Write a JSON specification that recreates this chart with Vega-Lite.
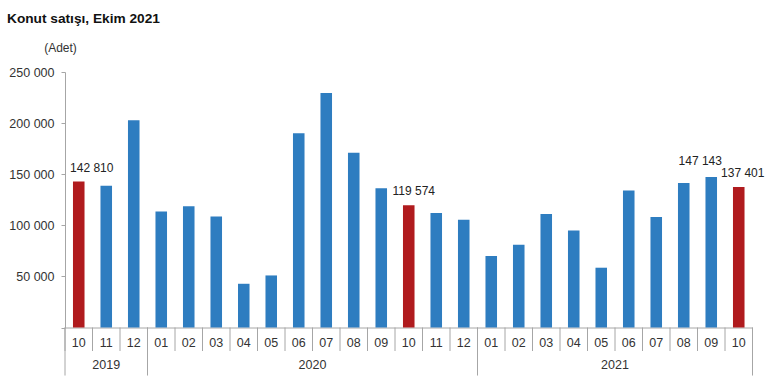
{
  "$schema": "https://vega.github.io/schema/vega-lite/v6.json",
  "width": 687.5,
  "height": 255.5,
  "autosize": "none",
  "padding": {"left": 65, "top": 72, "right": 17.5, "bottom": 63.5},
  "background": "white",
  "title": {
    "text": "Konut satışı, Ekim 2021",
    "anchor": "start",
    "frame": "group",
    "dx": -58,
    "font": "Liberation Sans",
    "fontSize": 13.7,
    "fontWeight": "bold",
    "color": "#111111",
    "offset": 15
  },
  "config": {
    "view": {"stroke": null},
    "font": "Liberation Sans"
  },
  "resolve": {"axis": {"x": "independent", "y": "independent"}},
  "datasets": {
    "sales": [
      {"key": "2019-10", "year": "2019", "month": "10", "value": 142810},
      {"key": "2019-11", "year": "2019", "month": "11", "value": 138680},
      {"key": "2019-12", "year": "2019", "month": "12", "value": 202667},
      {"key": "2020-01", "year": "2020", "month": "01", "value": 113615},
      {"key": "2020-02", "year": "2020", "month": "02", "value": 118753},
      {"key": "2020-03", "year": "2020", "month": "03", "value": 108670},
      {"key": "2020-04", "year": "2020", "month": "04", "value": 42783},
      {"key": "2020-05", "year": "2020", "month": "05", "value": 50936},
      {"key": "2020-06", "year": "2020", "month": "06", "value": 190012},
      {"key": "2020-07", "year": "2020", "month": "07", "value": 229357},
      {"key": "2020-08", "year": "2020", "month": "08", "value": 170880},
      {"key": "2020-09", "year": "2020", "month": "09", "value": 136219},
      {"key": "2020-10", "year": "2020", "month": "10", "value": 119574},
      {"key": "2020-11", "year": "2020", "month": "11", "value": 112000},
      {"key": "2020-12", "year": "2020", "month": "12", "value": 105500},
      {"key": "2021-01", "year": "2021", "month": "01", "value": 70000},
      {"key": "2021-02", "year": "2021", "month": "02", "value": 81000},
      {"key": "2021-03", "year": "2021", "month": "03", "value": 111000},
      {"key": "2021-04", "year": "2021", "month": "04", "value": 95000},
      {"key": "2021-05", "year": "2021", "month": "05", "value": 58500},
      {"key": "2021-06", "year": "2021", "month": "06", "value": 134000},
      {"key": "2021-07", "year": "2021", "month": "07", "value": 108000},
      {"key": "2021-08", "year": "2021", "month": "08", "value": 141500},
      {"key": "2021-09", "year": "2021", "month": "09", "value": 147143},
      {"key": "2021-10", "year": "2021", "month": "10", "value": 137401}
    ],
    "years": [
      {"year": "2019", "start": "2019-10", "end": "2019-12", "mid": "2019-11"},
      {"year": "2020", "start": "2020-01", "end": "2020-12", "mid": "2020-06"},
      {"year": "2021", "start": "2021-01", "end": "2021-10", "mid": "2021-05"}
    ]
  },
  "layer": [
    {
      "data": {"name": "sales"},
      "mark": {"type": "bar", "width": {"band": 0.42}},
      "encoding": {
        "x": {
          "field": "key",
          "type": "ordinal",
          "scale": {"paddingInner": 0, "paddingOuter": 0},
          "axis": {
            "title": null,
            "labelExpr": "slice(datum.value, 5)",
            "labelAngle": 0,
            "ticks": false,
            "domainColor": "#a6a6a6",
            "labelBaseline": "middle",
            "labelPadding": 15,
            "labelFont": "Liberation Sans",
            "labelFontSize": 12.5,
            "labelColor": "#333333"
          }
        },
        "y": {
          "field": "value",
          "type": "quantitative",
          "scale": {"domain": [0, 250000], "nice": false},
          "axis": {
            "title": "(Adet)",
            "titleAngle": 0,
            "titleAlign": "center",
            "titleBaseline": "middle",
            "titleX": -5,
            "titleY": -25,
            "titleFont": "Liberation Sans",
            "titleFontSize": 12,
            "titleFontWeight": "normal",
            "titleColor": "#333333",
            "values": [0, 50000, 100000, 150000, 200000, 250000],
            "labelExpr": "datum.value === 0 ? '' : replace(format(datum.value, ',d'), ',', ' ')",
            "grid": false,
            "tickSize": 4,
            "tickColor": "#a6a6a6",
            "domainColor": "#a6a6a6",
            "labelPadding": 7,
            "labelFont": "Liberation Sans",
            "labelFontSize": 12.5,
            "labelColor": "#333333"
          }
        },
        "color": {
          "condition": {"test": "datum.month === '10'", "value": "#b01b1e"},
          "value": "#2e7dc0"
        }
      }
    },
    {
      "data": {"name": "sales"},
      "mark": {"type": "rule", "color": "#a6a6a6", "strokeWidth": 1},
      "encoding": {
        "x": {"field": "key", "type": "ordinal", "bandPosition": 0, "axis": null},
        "y": {"datum": 0, "type": "quantitative", "scale": {"domain": [0, 250000], "nice": false}, "axis": null},
        "y2": {"datum": -23000}
      }
    },
    {
      "data": {"name": "years"},
      "mark": {"type": "rule", "color": "#a6a6a6", "strokeWidth": 1},
      "encoding": {
        "x": {"field": "start", "type": "ordinal", "bandPosition": 0, "axis": null},
        "y": {"datum": 0, "type": "quantitative", "scale": {"domain": [0, 250000], "nice": false}, "axis": null},
        "y2": {"datum": -47000}
      }
    },
    {
      "data": {"name": "years"},
      "transform": [{"filter": "datum.year === '2021'"}],
      "mark": {"type": "rule", "color": "#a6a6a6", "strokeWidth": 1},
      "encoding": {
        "x": {"field": "end", "type": "ordinal", "bandPosition": 1, "axis": null},
        "y": {"datum": 0, "type": "quantitative", "scale": {"domain": [0, 250000], "nice": false}, "axis": null},
        "y2": {"datum": -47000}
      }
    },
    {
      "data": {"name": "years"},
      "transform": [{"filter": "datum.year === '2019'"}],
      "mark": {"type": "text", "baseline": "middle", "align": "center", "fontSize": 12.5, "color": "#333333"},
      "encoding": {
        "x": {"field": "mid", "type": "ordinal", "bandPosition": 0.5, "axis": null},
        "y": {"datum": -36500, "type": "quantitative", "scale": {"domain": [0, 250000], "nice": false}, "axis": null},
        "text": {"field": "year"}
      }
    },
    {
      "data": {"name": "years"},
      "transform": [{"filter": "datum.year !== '2019'"}],
      "mark": {"type": "text", "baseline": "middle", "align": "center", "fontSize": 12.5, "color": "#333333"},
      "encoding": {
        "x": {"field": "mid", "type": "ordinal", "bandPosition": 1, "axis": null},
        "y": {"datum": -36500, "type": "quantitative", "scale": {"domain": [0, 250000], "nice": false}, "axis": null},
        "text": {"field": "year"}
      }
    },
    {
      "data": {"name": "sales"},
      "transform": [{"filter": "datum.key === '2019-10'"}],
      "mark": {"type": "text", "baseline": "middle", "align": "center", "fontSize": 12, "color": "#222222", "dy": -14, "dx": 13, "text": {"expr": "replace(format(datum.value, ',d'), ',', ' ')"}},
      "encoding": {
        "x": {"field": "key", "type": "ordinal", "axis": null},
        "y": {"field": "value", "type": "quantitative", "axis": null}
      }
    },
    {
      "data": {"name": "sales"},
      "transform": [{"filter": "datum.key === '2020-10'"}],
      "mark": {"type": "text", "baseline": "middle", "align": "center", "fontSize": 12, "color": "#222222", "dy": -14, "dx": 5, "text": {"expr": "replace(format(datum.value, ',d'), ',', ' ')"}},
      "encoding": {
        "x": {"field": "key", "type": "ordinal", "axis": null},
        "y": {"field": "value", "type": "quantitative", "axis": null}
      }
    },
    {
      "data": {"name": "sales"},
      "transform": [{"filter": "datum.key === '2021-09'"}],
      "mark": {"type": "text", "baseline": "middle", "align": "center", "fontSize": 12, "color": "#222222", "dy": -16, "dx": -11, "text": {"expr": "replace(format(datum.value, ',d'), ',', ' ')"}},
      "encoding": {
        "x": {"field": "key", "type": "ordinal", "axis": null},
        "y": {"field": "value", "type": "quantitative", "axis": null}
      }
    },
    {
      "data": {"name": "sales"},
      "transform": [{"filter": "datum.key === '2021-10'"}],
      "mark": {"type": "text", "baseline": "middle", "align": "center", "fontSize": 12, "color": "#222222", "dy": -14, "dx": 4, "text": {"expr": "replace(format(datum.value, ',d'), ',', ' ')"}},
      "encoding": {
        "x": {"field": "key", "type": "ordinal", "axis": null},
        "y": {"field": "value", "type": "quantitative", "axis": null}
      }
    }
  ]
}
